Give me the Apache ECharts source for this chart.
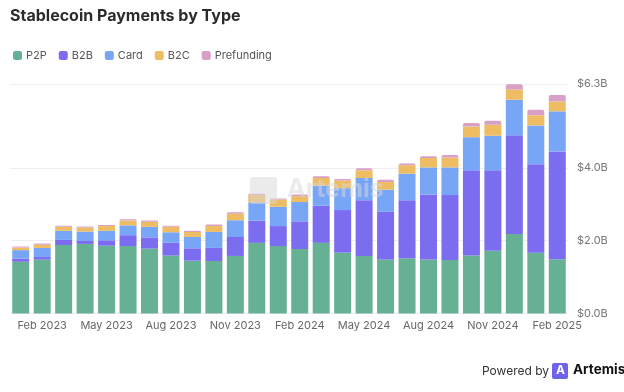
<!DOCTYPE html>
<html>
<head>
<meta charset="utf-8">
<script src="https://cdn.jsdelivr.net/npm/echarts@6/dist/echarts.min.js"></script>
<style>html,body{margin:0;padding:0;background:#fff;}#c{width:624px;height:392px;}</style>
</head>
<body>
<div id="c"></div>
<script>
var months = ['Jan 2023','Feb 2023','Mar 2023','Apr 2023','May 2023','Jun 2023','Jul 2023','Aug 2023','Sep 2023','Oct 2023','Nov 2023','Dec 2023',
  'Jan 2024','Feb 2024','Mar 2024','Apr 2024','May 2024','Jun 2024','Jul 2024','Aug 2024','Sep 2024','Oct 2024','Nov 2024','Dec 2024',
  'Jan 2025','Feb 2025'];
var p2p = [1.42,1.48,1.88,1.91,1.86,1.85,1.78,1.59,1.45,1.44,1.58,1.94,1.85,1.77,1.94,1.67,1.58,1.48,1.52,1.48,1.47,1.59,1.72,2.18,1.67,1.49];
var b2b = [0.09,0.07,0.14,0.08,0.15,0.30,0.31,0.35,0.34,0.36,0.52,0.61,0.55,0.76,1.02,1.17,1.53,1.31,1.59,1.79,1.78,2.34,2.21,2.71,2.43,2.96];
var card = [0.23,0.25,0.25,0.26,0.26,0.27,0.29,0.29,0.31,0.44,0.46,0.50,0.53,0.53,0.55,0.60,0.61,0.61,0.73,0.74,0.76,0.91,0.95,0.98,1.06,1.10];
var b2c = [0.07,0.09,0.11,0.11,0.13,0.13,0.14,0.15,0.14,0.16,0.18,0.20,0.20,0.16,0.21,0.21,0.21,0.21,0.23,0.26,0.27,0.29,0.30,0.28,0.28,0.27];
var prefunding = [0.03,0.03,0.03,0.03,0.03,0.04,0.03,0.03,0.03,0.04,0.04,0.04,0.03,0.05,0.05,0.04,0.06,0.06,0.05,0.05,0.07,0.10,0.11,0.14,0.15,0.18];
var yTicks = [0, 2, 4, 6.3];

var colors = ['#66b194','#7b6cf0','#78a6f6','#edbc63','#d9a0c7'];
var names = ['P2P','B2B','Card','B2C','Prefunding'];
var datas = [p2p,b2b,card,b2c,prefunding];
var FONT = 'Inter, "Noto Sans", sans-serif';

var chart = echarts.init(document.getElementById('c'), null, {renderer:'canvas'});
var series = names.map(function(n,i){
  return {
    name:n, type:'bar', stack:'t', barWidth:17, data:datas[i],
    itemStyle:{color:colors[i], borderRadius: i===4 ? [2,2,0,0] : 0},
    emphasis:{disabled:true}
  };
});
var wm = 'rgba(215,215,215,0.5)';
chart.setOption({
  animation:false,
  color:colors,
  title:{text:'Stablecoin Payments by Type', left:5, top:3,
    textStyle:{fontFamily:FONT, fontSize:16, fontWeight:'bold', color:'#2b2b2b'}},
  legend:{left:8, top:45, icon:'roundRect', itemWidth:9, itemHeight:9, itemGap:12,
    textStyle:{fontFamily:FONT, fontSize:11, color:'#555', padding:[0,0,0,-1]}, data:names},
  grid:{left:10, right:56, top:84, bottom:78.5},
  xAxis:{type:'category', data:months,
    axisLine:{show:false}, axisTick:{show:false},
    axisLabel:{interval:function(i){return i%3===1;}, fontFamily:FONT, fontSize:11, color:'#666', margin:7}},
  yAxis:{type:'value', position:'right', min:0, max:6.3,
    axisLine:{show:false},
    axisTick:{show:false, customValues:yTicks},
    axisLabel:{customValues:yTicks, fontFamily:FONT, fontSize:11, color:'#777', margin:9,
      formatter:function(v){return '$'+v.toFixed(1)+'B';}},
    splitLine:{lineStyle:{color:'#eeeeee', width:1}}},
  series:series,
  graphic:[
    {type:'rect', left:250, top:177, zlevel:1, z:100, shape:{width:27,height:27,r:3}, style:{fill:wm}},
    {type:'text', left:287, top:177, zlevel:1, z:100, style:{text:'Artemis', fontFamily:FONT, fontSize:25, fontWeight:'bold', fill:wm}},
    {type:'text', left:482, top:365, style:{text:'Powered by', fontFamily:FONT, fontSize:12, fill:'#333'}},
    {type:'rect', left:552, top:363, shape:{width:16,height:16,r:2}, style:{fill:'#6f63ee'}},
    {type:'text', left:556, top:364, style:{text:'A', fontFamily:FONT, fontSize:12, fontWeight:'bold', fill:'#ffffff'}},
    {type:'text', left:573, top:363, style:{text:'Artemis', fontFamily:FONT, fontSize:13.5, fontWeight:'bold', fill:'#111'}}
  ]
});
</script>
</body>
</html>
